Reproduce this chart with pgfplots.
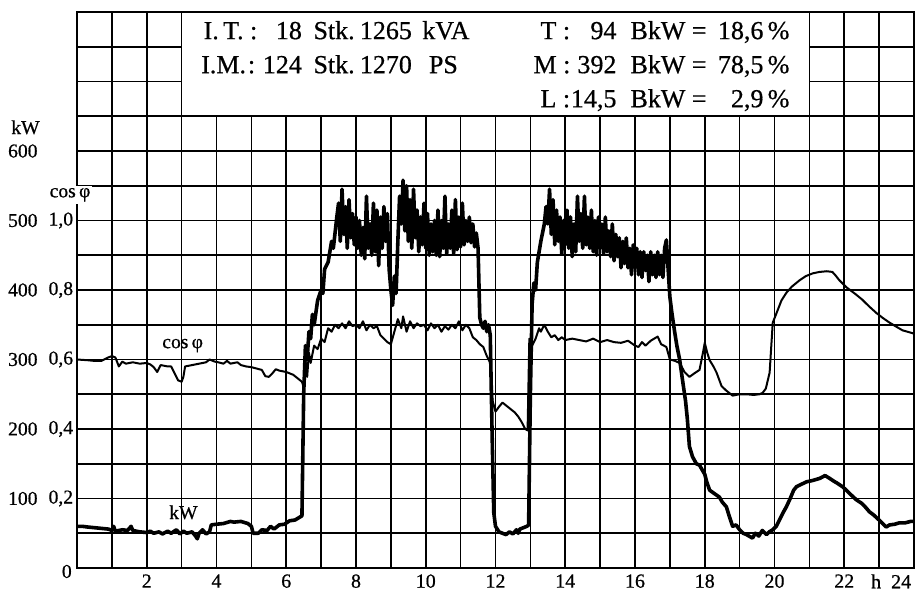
\documentclass[border=0pt]{standalone}
\usepackage{fontspec}
\setmainfont{Liberation Serif}[FakeBold=0.6]
\usepackage{pgfplots}
\pgfplotsset{compat=1.18}
\begin{document}
\begin{tikzpicture}
\begin{axis}[
  at={(38.5pt,11pt)}, anchor=south west,
  scale only axis, width=418.5pt, height=278pt,
  xmin=0, xmax=24, ymin=0, ymax=800,
  xtick={0,...,24}, ytick={0,50,...,800},
  xticklabels={,,2,,4,,6,,8,,10,,12,,14,,16,,18,,20,,22,,},
  yticklabels={},
  major tick length=0pt,
  grid=major,
  major grid style={black, line width=0.8pt},
  axis line style={line width=1pt},
  xticklabel style={font=\fontsize{10}{11}\selectfont, inner sep=0pt, anchor=north, yshift=-3pt},
  clip=false,
]
% cos phi (scaled: kW-equivalent = 500*cos phi)
\addplot[black, line width=1pt, line join=round] coordinates {
(0.0,300)(0.3,299)(0.5,298)(0.7,298)(0.9,303)(1.0,305)(1.1,303)(1.2,290)(1.3,297)(1.4,294)
(1.6,296)(1.8,294)(2.0,295)(2.1,293)(2.2,289)(2.3,282)(2.4,292)(2.6,290)(2.7,290)(2.8,280)
(2.9,270)(3.0,268)(3.05,275)(3.1,290)(3.3,292)(3.5,294)(3.7,296)(3.8,300)(3.95,297)(4.05,296)
(4.2,294)(4.3,298)(4.4,294)(4.6,296)(4.7,292)(4.85,290)(5.0,289)(5.15,287)(5.3,285)(5.4,276)
(5.5,275)(5.6,280)(5.7,286)(5.8,284)(6.0,282)(6.2,278)(6.35,272)(6.45,268)(6.5,260)(6.55,300)
(6.6,275)(6.65,310)(6.7,295)(6.8,320)(6.9,315)(7.0,330)(7.1,325)(7.2,345)(7.3,340)(7.4,350)
(7.5,345)(7.6,352)(7.7,345)(7.8,355)(7.9,348)(8.0,350)(8.1,345)(8.2,355)(8.3,342)(8.4,350)
(8.5,345)(8.6,348)(8.7,335)(8.8,330)(8.9,325)(9.0,322)(9.1,340)(9.2,358)(9.3,345)(9.35,362)
(9.45,340)(9.55,355)(9.65,345)(9.75,352)(9.85,348)(9.95,350)(10.05,342)(10.15,352)(10.25,345)(10.35,350)
(10.45,340)(10.55,348)(10.65,343)(10.75,350)(10.85,345)(10.95,355)(11.05,342)(11.15,350)(11.25,345)(11.35,332)
(11.45,328)(11.55,322)(11.65,318)(11.75,305)(11.85,295)(11.92,240)(12.0,225)(12.1,232)(12.2,238)(12.3,234)
(12.45,228)(12.55,224)(12.65,218)(12.75,210)(12.85,200)(12.92,198)(12.97,330)(13.05,320)(13.15,330)(13.25,345)
(13.3,340)(13.4,350)(13.5,340)(13.6,332)(13.7,335)(13.8,328)(13.9,332)(14.0,328)(14.2,330)(14.4,328)
(14.6,326)(14.8,330)(15.0,325)(15.2,328)(15.4,325)(15.6,324)(15.8,327)(16.0,320)(16.1,318)(16.2,325)
(16.3,320)(16.45,327)(16.55,330)(16.65,333)(16.75,322)(16.9,318)(17.0,300)(17.15,298)(17.28,295)(17.42,282)
(17.56,275)(17.7,280)(17.85,285)(17.95,310)(18.0,324)(18.07,310)(18.14,299)(18.25,290)(18.34,281)(18.48,262)
(18.6,256)(18.8,248)(19.0,250)(19.2,250)(19.4,249)(19.57,250)(19.66,252)(19.75,258)(19.86,281)(19.95,353)
(20.06,367)(20.2,385)(20.34,396)(20.5,405)(20.72,414)(20.9,420)(21.1,424)(21.29,426)(21.5,427)(21.66,426)
(21.75,421)(21.86,414)(22.06,404)(22.3,395)(22.52,386)(22.7,377)(22.92,367)(23.1,360)(23.3,353)(23.5,347)
(23.67,342)(23.95,338)(24.0,337)
};
% kW
\addplot[black, line width=1.8pt, line join=round] coordinates {
(0.00,60)(0.15,60)(0.3,59)(0.5,58)(0.7,57)(0.9,56)(1.0,54)(1.05,60)(1.1,53)(1.3,55)
(1.45,54)(1.55,60)(1.6,54)(1.8,52)(2.0,51)(2.1,53)(2.2,50)(2.35,52)(2.45,49)(2.6,53)
(2.7,50)(2.85,55)(2.95,49)(3.05,53)(3.15,50)(3.3,52)(3.4,46)(3.45,42)(3.5,50)(3.6,55)
(3.7,49)(3.8,52)(3.85,62)(4.0,63)(4.2,64)(4.4,67)(4.5,66)(4.7,67)(4.9,64)(5.0,60)
(5.05,50)(5.2,50)(5.3,55)(5.45,54)(5.55,60)(5.65,56)(5.8,62)(5.95,63)(6.1,68)(6.25,69)
(6.35,72)(6.45,75)(6.5,250)(6.55,320)(6.6,300)(6.65,340)(6.7,330)(6.75,365)(6.8,350)(6.9,385)
(7.0,400)(7.05,395)(7.1,430)(7.2,440)(7.3,470)(7.35,460)(7.45,505)
(7.50,525)(7.55,470)(7.60,545)(7.65,480)(7.70,520)(7.75,460)(7.80,530)(7.85,475)(7.90,510)(7.95,465)
(8.00,505)(8.05,460)(8.10,500)(8.15,450)(8.20,490)(8.25,445)(8.30,535)(8.35,460)(8.40,495)(8.45,450)
(8.50,525)(8.55,455)(8.60,515)(8.65,435)(8.70,505)(8.75,460)(8.80,520)(8.85,470)(8.90,510)(8.95,430)
(9.00,400)(9.05,378)(9.10,420)(9.15,395)(9.20,470)(9.25,535)(9.30,495)(9.35,558)(9.40,485)(9.45,550)
(9.50,470)(9.55,530)(9.60,460)(9.65,545)(9.70,475)(9.75,515)(9.80,455)(9.85,505)(9.90,465)(9.95,525)
(10.00,460)(10.05,510)(10.10,450)(10.15,495)(10.20,455)(10.25,500)(10.30,450)(10.35,515)(10.40,448)(10.45,500)
(10.50,460)(10.55,535)(10.60,452)(10.65,495)(10.70,460)(10.75,515)(10.80,452)(10.85,530)(10.90,458)(10.95,505)
(11.00,462)(11.05,525)(11.10,465)(11.15,500)(11.20,470)(11.25,505)(11.30,468)(11.35,495)(11.40,462)(11.45,482)
(11.50,460)(11.55,360)(11.60,350)(11.65,345)(11.70,355)(11.75,340)(11.80,350)(11.85,335)(11.90,200)(11.95,80)
(12.00,60)(12.1,52)(12.2,50)(12.3,48)(12.4,52)(12.5,49)(12.6,55)(12.65,50)(12.7,56)(12.8,58)
(12.9,60)(12.95,62)(13.0,250)(13.05,380)(13.1,410)(13.15,400)(13.2,440)(13.3,470)(13.4,495)(13.45,520)
(13.50,495)(13.55,545)(13.60,480)(13.65,530)(13.70,465)(13.75,515)(13.80,470)(13.85,505)(13.90,452)(13.95,500)
(14.00,465)(14.05,515)(14.10,460)(14.15,505)(14.20,448)(14.25,495)(14.30,455)(14.35,535)(14.40,470)(14.45,510)
(14.50,460)(14.55,535)(14.60,465)(14.65,505)(14.70,460)(14.75,515)(14.80,455)(14.85,500)(14.90,450)(14.95,505)
(15.00,460)(15.05,495)(15.10,452)(15.15,505)(15.20,455)(15.25,485)(15.30,448)(15.35,495)(15.40,442)(15.45,480)
(15.50,448)(15.55,475)(15.60,432)(15.65,470)(15.70,438)(15.75,475)(15.80,432)(15.85,460)(15.90,422)(15.95,465)
(16.00,432)(16.05,460)(16.10,422)(16.15,455)(16.20,418)(16.25,455)(16.30,428)(16.35,450)(16.40,412)(16.45,455)
(16.50,422)(16.55,450)(16.60,418)(16.65,455)(16.70,422)(16.75,450)(16.80,418)(16.85,460)(16.90,472)(16.95,430)
(17.00,390)(17.05,370)(17.13,342)(17.2,320)(17.28,300)(17.35,275)(17.45,240)(17.5,215)(17.56,175)(17.65,160)
(17.76,150)(17.85,148)(17.94,140)(18.0,135)(18.05,125)(18.14,112)(18.25,108)(18.42,102)(18.5,95)(18.62,88)
(18.7,75)(18.8,60)(18.9,62)(19.0,55)(19.1,50)(19.2,48)(19.3,45)(19.37,43)(19.45,50)(19.55,46)
(19.65,54)(19.77,48)(19.85,52)(19.95,55)(20.05,60)(20.15,70)(20.25,80)(20.34,88)(20.45,100)(20.55,112)
(20.63,117)(20.75,120)(20.92,124)(21.1,126)(21.3,129)(21.45,133)(21.58,129)(21.7,125)(21.8,122)(21.95,117)
(22.1,110)(22.2,105)(22.35,98)(22.5,93)(22.6,88)(22.72,81)(22.85,76)(23.0,69)(23.1,64)(23.2,59)
(23.3,62)(23.45,63)(23.58,65)(23.75,65)(23.9,67)(24.0,67)
};
% white info box
\fill[white] (axis cs:3,650) rectangle (axis cs:21,800);
\draw[line width=0.8pt] (axis cs:3,650) rectangle (axis cs:21,800);
\begin{scope}[every node/.style={inner sep=0pt, font=\fontsize{13}{15}\selectfont}]
\node[anchor=base west] at (axis cs:3.62,761) {I.\,T.\ :};
\node[anchor=base east] at (axis cs:6.46,761) {18};
\node[anchor=base west] at (axis cs:6.77,761) {Stk.};
\node[anchor=base west] at (axis cs:8.1,761) {1265};
\node[anchor=base west] at (axis cs:9.89,761) {kVA};
\node[anchor=base west] at (axis cs:3.55,712) {I.M.\kern1pt:};
\node[anchor=base east] at (axis cs:6.46,712) {124};
\node[anchor=base west] at (axis cs:6.77,712) {Stk.};
\node[anchor=base west] at (axis cs:8.1,712) {1270};
\node[anchor=base west] at (axis cs:10.08,712) {PS};
\node[anchor=base west] at (axis cs:13.28,761) {T :};
\node[anchor=base east] at (axis cs:15.48,761) {94};
\node[anchor=base west] at (axis cs:13.08,712) {M :};
\node[anchor=base east] at (axis cs:15.48,712) {392};
\node[anchor=base west] at (axis cs:13.28,663) {L :};
\node[anchor=base east] at (axis cs:15.48,663) {14,5};
\node[anchor=base west] at (axis cs:15.86,761) {BkW};
\node[anchor=base west] at (axis cs:15.86,712) {BkW};
\node[anchor=base west] at (axis cs:15.86,663) {BkW};
\node[anchor=base] at (axis cs:17.84,761) {=};
\node[anchor=base] at (axis cs:17.84,712) {=};
\node[anchor=base] at (axis cs:17.84,663) {=};
\node[anchor=base east] at (axis cs:20.44,761) {18,6\,\%};
\node[anchor=base east] at (axis cs:20.44,712) {78,5\,\%};
\node[anchor=base east] at (axis cs:20.44,663) {2,9\,\%};
\end{scope}
% left tick labels
\begin{scope}[every node/.style={inner sep=0pt, font=\fontsize{9.8}{10}\selectfont}]
\node[anchor=east] at (axis cs:-1.06,634) {kW};
\node[anchor=east] at (axis cs:-1.12,600) {600};
\node[anchor=east] at (axis cs:-1.12,500) {500};
\node[anchor=east] at (axis cs:-1.12,400) {400};
\node[anchor=east] at (axis cs:-1.12,300) {300};
\node[anchor=east] at (axis cs:-1.12,200) {200};
\node[anchor=east] at (axis cs:-1.12,100) {100};
\node[anchor=east] at (axis cs:-0.1,500) {1,0};
\node[anchor=east] at (axis cs:-0.1,400) {0,8};
\node[anchor=east] at (axis cs:-0.1,300) {0,6};
\node[anchor=east] at (axis cs:-0.1,200) {0,4};
\node[anchor=east] at (axis cs:-0.1,100) {0,2};
\node[anchor=east] at (axis cs:-0.14,-5) {0};
\node[fill=white, inner sep=1pt] at (axis cs:-0.2,537) {cos\,φ};
\node[anchor=north east, font=\fontsize{10}{11}\selectfont] at (axis cs:23.93,0) [yshift=-3pt] {h\hspace{5pt}24};
\node at (axis cs:3.03,320) {cos\,φ};
\node at (axis cs:3.05,80) {kW};
\end{scope}
\end{axis}
\pgfresetboundingbox
\path[use as bounding box] (0,0) rectangle (458.5pt,295pt);
\end{tikzpicture}
\end{document}
